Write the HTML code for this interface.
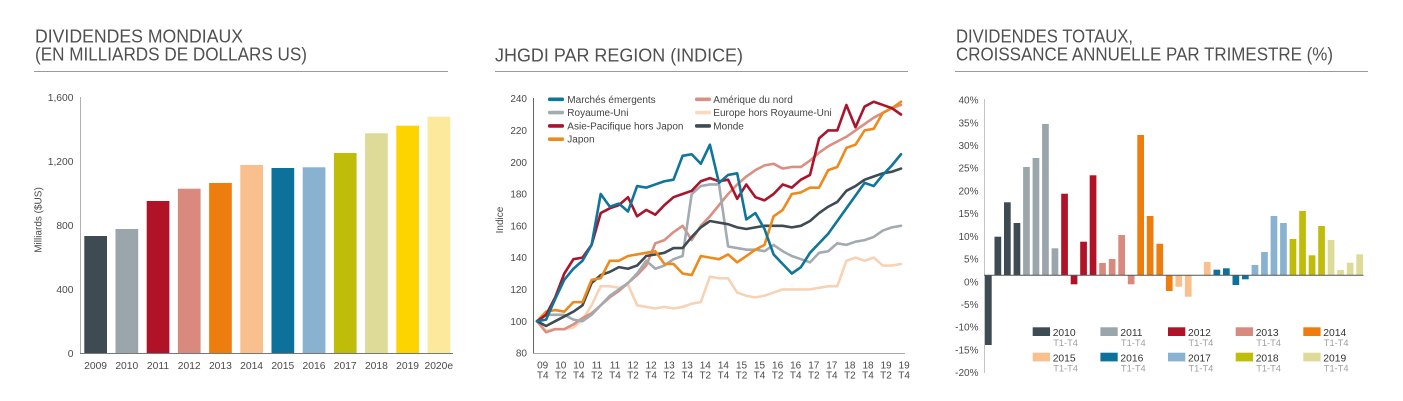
<!DOCTYPE html>
<html><head><meta charset="utf-8"><style>
html,body{margin:0;padding:0;background:#fff;}
svg{display:block;}
text{font-family:"Liberation Sans",sans-serif;}
</style></head><body>
<svg width="1403" height="401" viewBox="0 0 1403 401" xmlns="http://www.w3.org/2000/svg">
<rect width="1403" height="401" fill="#fff"/>
<!-- Titles -->
<g fill="#505050" font-size="18.5">
<text x="35" y="42.7" textLength="208" lengthAdjust="spacingAndGlyphs">DIVIDENDES MONDIAUX</text>
<text x="35" y="60.7" textLength="272" lengthAdjust="spacingAndGlyphs">(EN MILLIARDS DE DOLLARS US)</text>
<text x="495" y="61.5" textLength="248" lengthAdjust="spacingAndGlyphs">JHGDI PAR REGION (INDICE)</text>
<text x="956" y="42.7" textLength="177" lengthAdjust="spacingAndGlyphs">DIVIDENDES TOTAUX,</text>
<text x="956" y="60.7" textLength="377" lengthAdjust="spacingAndGlyphs">CROISSANCE ANNUELLE PAR TRIMESTRE (%)</text>
</g>
<g stroke="#9a9a9a" stroke-width="1">
<line x1="34" y1="71.5" x2="448" y2="71.5"/>
<line x1="495" y1="71.5" x2="908" y2="71.5"/>
<line x1="955" y1="71.5" x2="1368" y2="71.5"/>
</g>

<!-- LEFT CHART -->
<g>
<rect x="84.3" y="236" width="22.7" height="117.3" fill="#3e4b53"/>
<rect x="115.5" y="229" width="22.7" height="124.3" fill="#9aa6ac"/>
<rect x="146.7" y="201" width="22.7" height="152.3" fill="#b01228"/>
<rect x="177.9" y="188.7" width="22.7" height="164.6" fill="#d88a7e"/>
<rect x="209.1" y="183" width="22.7" height="170.3" fill="#ee7d10"/>
<rect x="240.3" y="165" width="22.7" height="188.3" fill="#f9bf8d"/>
<rect x="271.5" y="168" width="22.7" height="185.3" fill="#0c729b"/>
<rect x="302.7" y="167.3" width="22.7" height="186" fill="#88b2d0"/>
<rect x="333.9" y="153" width="22.7" height="200.3" fill="#bfbd0a"/>
<rect x="365.1" y="133.3" width="22.7" height="220" fill="#dedb98"/>
<rect x="396.3" y="125.7" width="22.7" height="227.6" fill="#fdd400"/>
<rect x="427.5" y="116.7" width="22.7" height="236.6" fill="#fde99c"/>
</g>
<line x1="80.5" y1="97" x2="80.5" y2="353.5" stroke="#b0b0b0" stroke-width="1"/>
<line x1="80" y1="353.5" x2="453" y2="353.5" stroke="#777" stroke-width="1"/>
<g fill="#4a4a4a" font-size="10.3" text-anchor="end">
<text x="73.5" y="101">1,600</text>
<text x="73.5" y="165">1,200</text>
<text x="73.5" y="229">800</text>
<text x="73.5" y="293">400</text>
<text x="73.5" y="357">0</text>
</g>
<text transform="translate(41.5,220) rotate(-90)" text-anchor="middle" fill="#4a4a4a" font-size="10">Milliards ($US)</text>
<g fill="#4a4a4a" font-size="10.3" text-anchor="middle">
<text x="95.6" y="369">2009</text>
<text x="126.8" y="369">2010</text>
<text x="158" y="369">2011</text>
<text x="189.2" y="369">2012</text>
<text x="220.4" y="369">2013</text>
<text x="251.6" y="369">2014</text>
<text x="282.8" y="369">2015</text>
<text x="314" y="369">2016</text>
<text x="345.2" y="369">2017</text>
<text x="376.4" y="369">2018</text>
<text x="407.6" y="369">2019</text>
<text x="438.8" y="369">2020e</text>
</g>

<!-- MIDDLE CHART -->
<line x1="533.5" y1="98" x2="533.5" y2="353.5" stroke="#666" stroke-width="1"/>
<line x1="533" y1="353.5" x2="905" y2="353.5" stroke="#aaa" stroke-width="1"/>
<g fill="#4a4a4a" font-size="10" text-anchor="end">
<text x="527" y="102.2">240</text>
<text x="527" y="134">220</text>
<text x="527" y="165.8">200</text>
<text x="527" y="197.6">180</text>
<text x="527" y="229.4">160</text>
<text x="527" y="261.2">140</text>
<text x="527" y="293">120</text>
<text x="527" y="324.8">100</text>
<text x="527" y="356.6">80</text>
</g>
<text transform="translate(503,220) rotate(-90)" text-anchor="middle" fill="#4a4a4a" font-size="10">Indice</text>
<g fill="#4a4a4a" font-size="10" text-anchor="middle">
<text x="542.7" y="368.3">09</text><text x="542.7" y="378.3">T4</text>
<text x="560.8" y="368.3">10</text><text x="560.8" y="378.3">T2</text>
<text x="578.8" y="368.3">10</text><text x="578.8" y="378.3">T4</text>
<text x="596.9" y="368.3">11</text><text x="596.9" y="378.3">T2</text>
<text x="615" y="368.3">11</text><text x="615" y="378.3">T4</text>
<text x="633" y="368.3">12</text><text x="633" y="378.3">T2</text>
<text x="651.1" y="368.3">12</text><text x="651.1" y="378.3">T4</text>
<text x="669.2" y="368.3">13</text><text x="669.2" y="378.3">T2</text>
<text x="687.3" y="368.3">13</text><text x="687.3" y="378.3">T4</text>
<text x="705.3" y="368.3">14</text><text x="705.3" y="378.3">T2</text>
<text x="723.4" y="368.3">14</text><text x="723.4" y="378.3">T4</text>
<text x="741.5" y="368.3">15</text><text x="741.5" y="378.3">T2</text>
<text x="759.5" y="368.3">15</text><text x="759.5" y="378.3">T4</text>
<text x="777.6" y="368.3">16</text><text x="777.6" y="378.3">T2</text>
<text x="795.7" y="368.3">16</text><text x="795.7" y="378.3">T4</text>
<text x="813.8" y="368.3">17</text><text x="813.8" y="378.3">T2</text>
<text x="831.8" y="368.3">17</text><text x="831.8" y="378.3">T4</text>
<text x="849.9" y="368.3">18</text><text x="849.9" y="378.3">T2</text>
<text x="868" y="368.3">18</text><text x="868" y="378.3">T4</text>
<text x="886" y="368.3">19</text><text x="886" y="378.3">T2</text>
<text x="904.1" y="368.3">19</text><text x="904.1" y="378.3">T4</text>
</g>
<g transform="matrix(9.1,0,0,-1.59,537,480.2)" fill="none" stroke-width="2.6" stroke-linejoin="round" stroke-linecap="round">
<polyline vector-effect="non-scaling-stroke" stroke="#f8d2b4" points="0,100 1,94 2,95 3,95 4,96 5,101 6,110 7,122 8,122 9,121 10,123 11,110 12,109 13,108 14,109 15,108 16,109 17,111 18,112 19,128 20,127 21,127 22,118 23,116 24,115 25,116 26,118 27,120 28,120 29,120 30,120 31,121 32,122 33,122 34,138 35,140 36,138 37,140 38,135 39,135 40,136"/>
<polyline vector-effect="non-scaling-stroke" stroke="#d99083" points="0,100 1,93 2,95 3,95 4,98 5,102 6,105 7,110 8,115 9,119 10,124 11,129 12,135 13,149 14,151 15,156 16,160 17,151 18,160 19,166 20,173 21,180 22,186 23,191 24,195 25,198 26,199 27,196 28,197 29,197 30,201 31,206 32,210 33,213 34,216 35,220 36,224 37,228 38,231 39,234 40,236"/>
<polyline vector-effect="non-scaling-stroke" stroke="#a2abb0" points="0,100 1,104 2,104 3,104 4,101 5,100 6,104 7,110 8,116 9,120 10,124 11,130 12,138 13,133 14,135 15,139 16,141 17,180 18,185 19,186 20,186 21,147 22,146 23,145 24,145 25,144 26,148 27,144 28,141 29,139 30,137 31,143 32,144 33,149 34,148 35,150 36,151 37,153 38,157 39,159 40,160"/>
<polyline vector-effect="non-scaling-stroke" stroke="#3e4b53" points="0,100 1,97 2,100 3,103 4,106 5,110 6,124 7,129 8,131 9,134 10,133 11,135 12,141 13,142 14,143 15,146 16,146 17,153 18,159 19,163 20,162 21,161 22,159 23,158 24,159 25,160 26,160 27,160 28,159 29,160 30,163 31,168 32,172 33,175 34,182 35,185 36,189 37,191 38,193 39,194 40,196"/>
<polyline vector-effect="non-scaling-stroke" stroke="#ee8a1c" points="0,100 1,106 2,107 3,106 4,112 5,112 6,126 7,127 8,138 9,138 10,141 11,142 12,143 13,144 14,136 15,136 16,130 17,129 18,141 19,140 20,139 21,142 22,137 23,141 24,145 25,148 26,166 27,170 28,180 29,181 30,184 31,184 32,195 33,197 34,209 35,211 36,220 37,221 38,231 39,234 40,238"/>
<polyline vector-effect="non-scaling-stroke" stroke="#a8152c" points="0,100 1,104 2,115 3,130 4,139 5,140 6,148 7,168 8,171 9,173 10,178 11,166 12,170 13,167 14,173 15,178 16,180 17,182 18,188 19,190 20,188 21,189 22,177 23,186 24,178 25,176 26,180 27,186 28,184 29,189 30,192 31,215 32,220 33,220 34,236 35,222 36,235 37,238 38,236 39,234 40,230"/>
<polyline vector-effect="non-scaling-stroke" stroke="#0f7599" points="0,100 1,101 2,114 3,126 4,133 5,138 6,148 7,180 8,172 9,174 10,169 11,185 12,184 13,186 14,188 15,189 16,204 17,205 18,199 19,211 20,187 21,192 22,193 23,164 24,168 25,158 26,142 27,136 28,130 29,134 30,143 31,149 32,155 33,163 34,171 35,179 36,187 37,185 38,192 39,198 40,205"/>
</g>
<!-- middle legend -->
<g>
<rect x="548" y="97.5" width="16" height="3.6" rx="1.5" fill="#0f7599"/>
<rect x="548" y="110.8" width="16" height="3.6" rx="1.5" fill="#a2abb0"/>
<rect x="548" y="124.1" width="16" height="3.6" rx="1.5" fill="#a8152c"/>
<rect x="548" y="137.4" width="16" height="3.6" rx="1.5" fill="#ee8a1c"/>
<rect x="695" y="97.5" width="16" height="3.6" rx="1.5" fill="#d99083"/>
<rect x="695" y="110.8" width="16" height="3.6" rx="1.5" fill="#f8d9c2"/>
<rect x="695" y="124.1" width="16" height="3.6" rx="1.5" fill="#3e4b53"/>
</g>
<g fill="#444" font-size="10">
<text x="567.3" y="102.8">Marchés émergents</text>
<text x="567.3" y="116.1">Royaume-Uni</text>
<text x="567.3" y="129.4">Asie-Pacifique hors Japon</text>
<text x="567.3" y="142.7">Japon</text>
<text x="713.3" y="102.8">Amérique du nord</text>
<text x="713.3" y="116.1">Europe hors Royaume-Uni</text>
<text x="713.3" y="129.4">Monde</text>
</g>

<!-- RIGHT CHART -->
<line x1="984.5" y1="99" x2="984.5" y2="373" stroke="#c4c4c4" stroke-width="1"/>
<g fill="#4a4a4a" font-size="10" text-anchor="end">
<text x="978.5" y="103.6">40%</text>
<text x="978.5" y="126.3">35%</text>
<text x="978.5" y="149">30%</text>
<text x="978.5" y="171.7">25%</text>
<text x="978.5" y="194.4">20%</text>
<text x="978.5" y="217.1">15%</text>
<text x="978.5" y="239.9">10%</text>
<text x="978.5" y="262.6">5%</text>
<text x="978.5" y="285.3">0%</text>
<text x="978.5" y="308">-5%</text>
<text x="978.5" y="330.7">-10%</text>
<text x="978.5" y="353.4">-15%</text>
<text x="978.5" y="376.2">-20%</text>
</g>
<g>
<rect x="985" y="275" width="6.7" height="70" fill="#3e4b53"/>
<rect x="994.5" y="236.7" width="6.7" height="38.3" fill="#3e4b53"/>
<rect x="1004" y="202.3" width="6.7" height="72.7" fill="#3e4b53"/>
<rect x="1013.6" y="223" width="6.7" height="52" fill="#3e4b53"/>
<rect x="1023.1" y="167" width="6.7" height="108" fill="#9aa6ac"/>
<rect x="1032.6" y="158" width="6.7" height="117" fill="#9aa6ac"/>
<rect x="1042.1" y="124" width="6.7" height="151" fill="#9aa6ac"/>
<rect x="1051.6" y="248.3" width="6.7" height="26.7" fill="#9aa6ac"/>
<rect x="1061.2" y="193.7" width="6.7" height="81.3" fill="#b01228"/>
<rect x="1070.7" y="275" width="6.7" height="9.3" fill="#b01228"/>
<rect x="1080.2" y="241.7" width="6.7" height="33.3" fill="#b01228"/>
<rect x="1089.7" y="175.3" width="6.7" height="99.7" fill="#b01228"/>
<rect x="1099.2" y="263" width="6.7" height="12" fill="#d88a7e"/>
<rect x="1108.8" y="259" width="6.7" height="16" fill="#d88a7e"/>
<rect x="1118.3" y="235" width="6.7" height="40" fill="#d88a7e"/>
<rect x="1127.8" y="275" width="6.7" height="9.3" fill="#d88a7e"/>
<rect x="1137.3" y="135" width="6.7" height="140" fill="#ee7d10"/>
<rect x="1146.8" y="216" width="6.7" height="59" fill="#ee7d10"/>
<rect x="1156.4" y="243.7" width="6.7" height="31.3" fill="#ee7d10"/>
<rect x="1165.9" y="275" width="6.7" height="16" fill="#ee7d10"/>
<rect x="1175.4" y="275" width="6.7" height="11.7" fill="#f9bf8d"/>
<rect x="1184.9" y="275" width="6.7" height="21.7" fill="#f9bf8d"/>
<rect x="1203.9" y="262" width="6.7" height="13" fill="#f9bf8d"/>
<rect x="1213.5" y="269.7" width="6.7" height="5.3" fill="#0c729b"/>
<rect x="1223" y="268.3" width="6.7" height="6.7" fill="#0c729b"/>
<rect x="1232.5" y="275" width="6.7" height="10" fill="#0c729b"/>
<rect x="1242" y="275" width="6.7" height="4.3" fill="#0c729b"/>
<rect x="1251.6" y="265" width="6.7" height="10" fill="#88b2d0"/>
<rect x="1261.1" y="252" width="6.7" height="23" fill="#88b2d0"/>
<rect x="1270.6" y="216" width="6.7" height="59" fill="#88b2d0"/>
<rect x="1280.1" y="223" width="6.7" height="52" fill="#88b2d0"/>
<rect x="1289.6" y="239" width="6.7" height="36" fill="#bfbd0a"/>
<rect x="1299.2" y="211" width="6.7" height="64" fill="#bfbd0a"/>
<rect x="1308.7" y="255.3" width="6.7" height="19.7" fill="#bfbd0a"/>
<rect x="1318.2" y="226" width="6.7" height="49" fill="#bfbd0a"/>
<rect x="1327.7" y="240" width="6.7" height="35" fill="#dedb98"/>
<rect x="1337.2" y="270" width="6.7" height="5" fill="#dedb98"/>
<rect x="1346.8" y="262.7" width="6.7" height="12.3" fill="#dedb98"/>
<rect x="1356.3" y="254.3" width="6.7" height="20.7" fill="#dedb98"/>
</g>
<line x1="984" y1="275.3" x2="1363.5" y2="275.3" stroke="#555" stroke-width="1"/>
<!-- right legend -->
<g>
<rect x="1032.7" y="327.3" width="17.3" height="8.7" fill="#3e4b53"/>
<rect x="1100.4" y="327.3" width="17.3" height="8.7" fill="#9aa6ac"/>
<rect x="1168" y="327.3" width="17.3" height="8.7" fill="#b01228"/>
<rect x="1235.7" y="327.3" width="17.3" height="8.7" fill="#d88a7e"/>
<rect x="1303.3" y="327.3" width="17.3" height="8.7" fill="#ee7d10"/>
<rect x="1032.7" y="352.7" width="17.3" height="8.7" fill="#f9bf8d"/>
<rect x="1100.4" y="352.7" width="17.3" height="8.7" fill="#0c729b"/>
<rect x="1168" y="352.7" width="17.3" height="8.7" fill="#88b2d0"/>
<rect x="1235.7" y="352.7" width="17.3" height="8.7" fill="#bfbd0a"/>
<rect x="1303.3" y="352.7" width="17.3" height="8.7" fill="#dedb98"/>
</g>
<g fill="#333" font-size="10.3">
<text x="1052.7" y="336.2">2010</text>
<text x="1120.4" y="336.2">2011</text>
<text x="1188" y="336.2">2012</text>
<text x="1255.7" y="336.2">2013</text>
<text x="1323.3" y="336.2">2014</text>
<text x="1052.7" y="361.5">2015</text>
<text x="1120.4" y="361.5">2016</text>
<text x="1188" y="361.5">2017</text>
<text x="1255.7" y="361.5">2018</text>
<text x="1323.3" y="361.5">2019</text>
</g>
<g fill="#a0a0a0" font-size="9.3">
<text x="1053.2" y="346">T1-T4</text>
<text x="1120.9" y="346">T1-T4</text>
<text x="1188.5" y="346">T1-T4</text>
<text x="1256.2" y="346">T1-T4</text>
<text x="1323.8" y="346">T1-T4</text>
<text x="1053.2" y="371.3">T1-T4</text>
<text x="1120.9" y="371.3">T1-T4</text>
<text x="1188.5" y="371.3">T1-T4</text>
<text x="1256.2" y="371.3">T1-T4</text>
<text x="1323.8" y="371.3">T1-T4</text>
</g>
</svg>
</body></html>
